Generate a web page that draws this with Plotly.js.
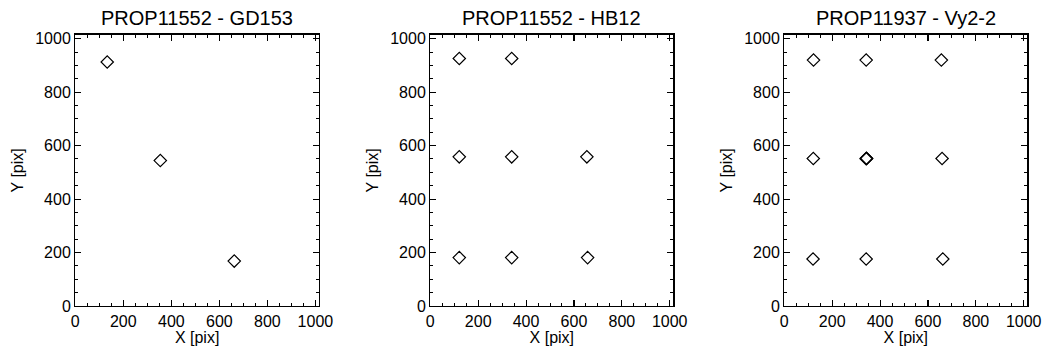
<!DOCTYPE html>
<html>
<head>
<meta charset="utf-8">
<script src="https://cdn.plot.ly/plotly-3.0.1.min.js"></script>
<style>html,body{margin:0;padding:0;background:#fff}#chart{width:1043px;height:349px}</style>
</head>
<body>
<div id="chart"></div>
<script>
// Panel titles
const panelTitles = ["PROP11552 - GD153", "PROP11552 - HB12", "PROP11937 - Vy2-2"];
const xLabel = "X [pix]";
const yLabel = "Y [pix]";
const tickVals = [0, 200, 400, 600, 800, 1000];
const tickText = ["0", "200", "400", "600", "800", "1000"];

// Panel 1: GD153
const gd153X = [133, 354, 662];
const gd153Y = [913, 544, 168];

// Panel 2: HB12
const hb12X = [121, 340, 121, 340, 654, 121, 340, 657];
const hb12Y = [926, 926, 558, 558, 558, 181, 181, 181];

// Panel 3: Vy2-2
const vy22X = [122, 342, 656, 121, 342, 343, 344, 659, 120, 342, 662];
const vy22Y = [920, 920, 920, 552, 551, 553, 552, 552, 176, 176, 176];

const font = "Liberation Sans, Arial, Helvetica, sans-serif";
const xs = [gd153X, hb12X, vy22X];
const ys = [gd153Y, hb12Y, vy22Y];
const xDomains = [[75.3/1043, 319/1043], [430.3/1043, 673.3/1043], [784.3/1043, 1027.3/1043]];
const yDomain = [1 - 306/349, 1 - 34.7/349];

const traces = xs.map((x, i) => ({
  type: 'scatter', mode: 'markers',
  x: x, y: ys[i],
  xaxis: i === 0 ? 'x' : 'x' + (i + 1),
  yaxis: i === 0 ? 'y' : 'y' + (i + 1),
  marker: {symbol: 'diamond-open', size: 9.5, color: '#000', line: {color: '#000', width: 1.2}},
  showlegend: false, hoverinfo: 'x+y'
}));

function axis(domain, title, anchor, isY) {
  return {
    domain: domain, anchor: anchor,
    range: [0, 1015], autorange: false,
    showgrid: false, zeroline: false,
    showline: true, linecolor: '#000', linewidth: 1.3, mirror: 'ticks',
    ticks: 'inside', ticklen: 6, tickwidth: 1.1, tickcolor: '#000',
    tickmode: 'array', tickvals: tickVals, ticktext: tickText,
    minor: {dtick: 50, tick0: 0, ticks: 'inside', ticklen: 3, tickwidth: 1, tickcolor: '#000', showgrid: false},
    tickfont: {family: font, size: 16, color: '#000'},
    title: {text: title, font: {family: font, size: 16, color: '#000'}, standoff: isY ? 7 : 2}
  };
}

const layout = {
  width: 1043, height: 349,
  margin: {l: 0, r: 0, t: 0, b: 0},
  paper_bgcolor: '#fff', plot_bgcolor: '#fff',
  font: {family: font, color: '#000'},
  annotations: panelTitles.map((t, i) => ({
    text: t, xref: 'paper', yref: 'paper',
    x: (xDomains[i][0] + xDomains[i][1]) / 2, y: 1 - 31/349,
    xanchor: 'center', yanchor: 'bottom', showarrow: false,
    font: {family: font, size: 20, color: '#000'}
  }))
};
for (let i = 0; i < 3; i++) {
  const s = i === 0 ? '' : String(i + 1);
  layout['xaxis' + s] = axis(xDomains[i], xLabel, 'y' + s, false);
  layout['yaxis' + s] = axis(yDomain, yLabel, 'x' + s, true);
}

Plotly.newPlot('chart', traces, layout, {displayModeBar: false, staticPlot: true});
</script>
</body>
</html>
